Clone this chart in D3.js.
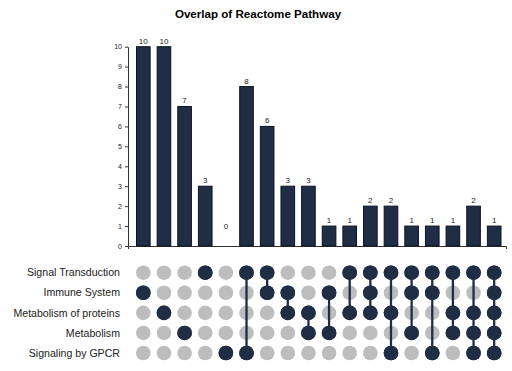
<!DOCTYPE html>
<html>
<head>
<meta charset="utf-8">
<script src="https://cdn.jsdelivr.net/npm/d3@7.9.0/dist/d3.min.js"></script>
<style>
  body { margin: 0; background: #fff; }
  svg text { font-family: "Liberation Sans", Arial, Helvetica, sans-serif; }
</style>
</head>
<body>
<svg width="512" height="371"></svg>
<script>
// sets (rows of the matrix)
const sets = ['Signal Transduction', 'Immune System', 'Metabolism of proteins', 'Metabolism', 'Signaling by GPCR'];

// intersection sizes, one per column
const counts = [10, 10, 7, 3, 0, 8, 6, 3, 3, 1, 1, 2, 2, 1, 1, 1, 2, 1];

// which sets take part in each column
const members = [
  ['Immune System'],
  ['Metabolism of proteins'],
  ['Metabolism'],
  ['Signal Transduction'],
  ['Signaling by GPCR'],
  ['Signal Transduction', 'Signaling by GPCR'],
  ['Signal Transduction', 'Immune System'],
  ['Immune System', 'Metabolism of proteins'],
  ['Metabolism of proteins', 'Metabolism'],
  ['Immune System', 'Metabolism'],
  ['Signal Transduction', 'Metabolism of proteins'],
  ['Signal Transduction', 'Immune System', 'Metabolism of proteins'],
  ['Signal Transduction', 'Metabolism of proteins', 'Signaling by GPCR'],
  ['Signal Transduction', 'Immune System', 'Metabolism'],
  ['Signal Transduction', 'Immune System', 'Signaling by GPCR'],
  ['Signal Transduction', 'Metabolism of proteins', 'Metabolism'],
  ['Signal Transduction', 'Metabolism of proteins', 'Metabolism', 'Signaling by GPCR'],
  ['Signal Transduction', 'Immune System', 'Metabolism of proteins', 'Metabolism', 'Signaling by GPCR']
];

const yTicks = [0, 1, 2, 3, 4, 5, 6, 7, 8, 9, 10];

const dark = '#1f2d45';
const grey = '#bdbdbd';

let svg = d3.select('svg');
let cols = counts.map((d, i) => i);

let x = d3.scaleBand().domain(cols).range([133, 504.5]).paddingInner(0.34).paddingOuter(0.17);
let y = d3.scaleLinear().domain([0, 10]).range([246, 46.7]);
let row = d3.scalePoint().domain(sets).range([272.7, 353]);

// title
svg.append('text')
  .attr('x', 258).attr('y', 18)
  .attr('text-anchor', 'middle')
  .attr('font-size', 11.6).attr('font-weight', 'bold')
  .text('Overlap of Reactome Pathway');

// y axis
let yAxis = svg.append('g')
  .attr('transform', 'translate(128,0)')
  .call(d3.axisLeft(y).tickValues(yTicks).tickSize(3).tickSizeOuter(0));
yAxis.selectAll('text').attr('font-size', 7).attr('fill', '#222');
yAxis.selectAll('line, path').attr('stroke', '#333');

// x axis line (no ticks)
let xLine = d3.scaleLinear().domain([0, 1]).range([128, 506]);
let xAxis = svg.append('g')
  .attr('transform', 'translate(0,246)')
  .call(d3.axisBottom(xLine).tickValues([]).tickSizeOuter(3));
xAxis.selectAll('path').attr('stroke', '#333');

// bars
svg.selectAll('rect.bar')
  .data(counts)
  .enter()
  .append('rect')
  .attr('class', 'bar')
  .attr('x', (d, i) => x(i))
  .attr('y', d => y(d))
  .attr('width', x.bandwidth())
  .attr('height', d => y(0) - y(d))
  .attr('fill', dark)
  .attr('stroke', '#0b1424')
  .attr('stroke-width', 1);

// bar labels
svg.selectAll('text.val')
  .data(counts)
  .enter()
  .append('text')
  .attr('class', 'val')
  .attr('x', (d, i) => x(i) + x.bandwidth() / 2)
  .attr('y', d => Math.min(y(d), y(0) - 14) - 3)
  .attr('text-anchor', 'middle')
  .attr('font-size', 8)
  .attr('fill', '#222')
  .text(d => d);

// row labels
svg.selectAll('text.set')
  .data(sets)
  .enter()
  .append('text')
  .attr('class', 'set')
  .attr('x', 120)
  .attr('y', d => row(d))
  .attr('dy', '0.35em')
  .attr('text-anchor', 'end')
  .attr('font-size', 10.6)
  .attr('fill', '#222')
  .text(d => d);

// matrix
cols.forEach(i => {
  let cx = x(i) + x.bandwidth() / 2;
  let g = svg.append('g');
  sets.forEach(s => {
    g.append('circle')
      .attr('cx', cx).attr('cy', row(s)).attr('r', 7.3)
      .attr('fill', members[i].includes(s) ? dark : grey);
  });
  let ys = members[i].map(s => row(s));
  if (ys.length > 1) {
    g.append('line')
      .attr('x1', cx).attr('x2', cx)
      .attr('y1', d3.min(ys)).attr('y2', d3.max(ys))
      .attr('stroke', dark).attr('stroke-width', 2.3);
  }
  // dark dots drawn on top of the line
  members[i].forEach(s => {
    g.append('circle')
      .attr('cx', cx).attr('cy', row(s)).attr('r', 7.3)
      .attr('fill', dark);
  });
});
</script>
</body>
</html>
